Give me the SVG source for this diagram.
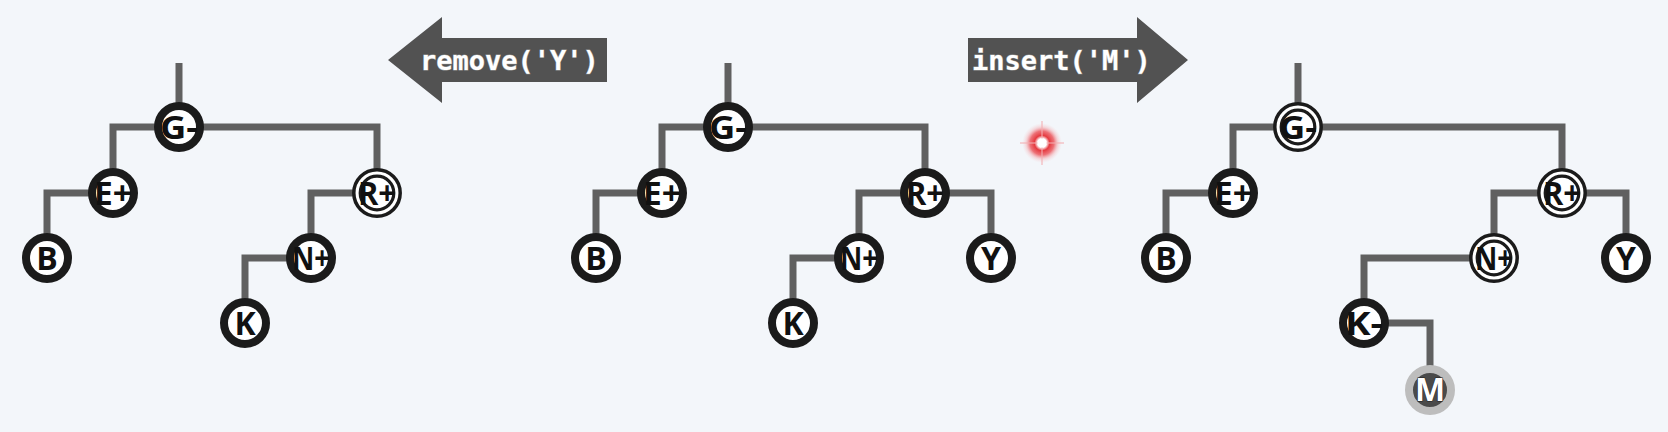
<svg xmlns="http://www.w3.org/2000/svg" width="1668" height="432" viewBox="0 0 1668 432">
<defs>
<radialGradient id="glow" cx="0.5" cy="0.5" r="0.5">
<stop offset="0" stop-color="#ffffff"/>
<stop offset="0.22" stop-color="#ffffff"/>
<stop offset="0.38" stop-color="#e53a40"/>
<stop offset="0.6" stop-color="#ec5a60" stop-opacity="0.85"/>
<stop offset="0.8" stop-color="#f49a9e" stop-opacity="0.35"/>
<stop offset="1" stop-color="#f8c8ca" stop-opacity="0"/>
</radialGradient>
</defs>
<style>
.bg{fill:#f3f6fa}
.edge{fill:none;stroke:#606060;stroke-width:7;stroke-linejoin:miter;stroke-linecap:butt}
.ring{fill:#ffffff;stroke:#1b1b1b;stroke-width:8}
.dbl-o{fill:#ffffff;stroke:#1b1b1b;stroke-width:3.5}
.dbl-i{fill:none;stroke:#1b1b1b;stroke-width:3.2}
.lbl{font-family:"Open Sans","DejaVu Sans",sans-serif;font-weight:bold;font-size:32px;fill:#111;text-anchor:middle}
.arrow{fill:#525252}
.cmd{font-family:"DejaVu Sans Mono","Liberation Mono",monospace;font-weight:bold;font-size:27px;fill:#ffffff;stroke:#9a9a9a;stroke-width:1;paint-order:stroke}
.mring{fill:#4a4a4a;stroke:#bdbdbd;stroke-width:8}
.mlbl{font-family:"Open Sans","DejaVu Sans",sans-serif;font-weight:bold;font-size:32px;fill:#ffffff;stroke:#222;stroke-width:1;paint-order:stroke;text-anchor:middle}
.spark{stroke:#f3b0b3;stroke-width:1.5;opacity:0.7}
</style>
<rect class="bg" x="0" y="0" width="1668" height="432"/>

<g id="arrow-remove">
<polygon class="arrow" points="388,60 442,17 442,38 607,38 607,82 442,82 442,103"/>
<text class="cmd" x="420" y="70">remove('Y')</text>
</g>
<g id="arrow-insert">
<polygon class="arrow" points="968,38 1137,38 1137,17 1188,60 1137,103 1137,82 968,82"/>
<text class="cmd" x="972" y="70">insert('M')</text>
</g>

<g id="cursor-highlight">
<circle cx="1042" cy="143" r="20" fill="url(#glow)"/>
<path class="spark" d="M1020,143 H1064 M1042,121 V165"/>
<circle cx="1042" cy="143" r="4.5" fill="#ffffff"/>
</g>

<g id="connectors">
<!-- left tree -->
<path class="edge" d="M179,63 V127"/>
<path class="edge" d="M179,127 H113 V193"/>
<path class="edge" d="M179,127 H377 V193"/>
<path class="edge" d="M113,193 H47 V258"/>
<path class="edge" d="M377,193 H311 V258"/>
<path class="edge" d="M311,258 H245 V323"/>
<!-- middle tree -->
<path class="edge" d="M728,63 V127"/>
<path class="edge" d="M728,127 H662 V193"/>
<path class="edge" d="M728,127 H925 V193"/>
<path class="edge" d="M662,193 H596 V258"/>
<path class="edge" d="M925,193 H859 V258"/>
<path class="edge" d="M925,193 H991 V258"/>
<path class="edge" d="M859,258 H793 V323"/>
<!-- right tree -->
<path class="edge" d="M1298,63 V127"/>
<path class="edge" d="M1298,127 H1233 V193"/>
<path class="edge" d="M1298,127 H1562 V193"/>
<path class="edge" d="M1233,193 H1166 V258"/>
<path class="edge" d="M1562,193 H1494 V258"/>
<path class="edge" d="M1562,193 H1626 V258"/>
<path class="edge" d="M1494,258 H1364 V323"/>
<path class="edge" d="M1364,323 H1430 V390"/>
</g>

<!-- left tree nodes -->
<g id="L-G"><circle class="ring" cx="179" cy="127" r="21"/><text class="lbl" x="179" y="139" textLength="38" lengthAdjust="spacingAndGlyphs">G-</text></g>
<g id="L-E"><circle class="ring" cx="113" cy="193" r="21"/><text class="lbl" x="113" y="205" textLength="38" lengthAdjust="spacingAndGlyphs">E+</text></g>
<g id="L-B"><circle class="ring" cx="47" cy="258" r="21"/><text class="lbl" x="47" y="270">B</text></g>
<g id="L-R"><circle class="dbl-o" cx="377" cy="193" r="23.2"/><circle class="dbl-i" cx="377" cy="193" r="16.8"/><text class="lbl" x="377" y="205" textLength="38" lengthAdjust="spacingAndGlyphs">R+</text></g>
<g id="L-N"><circle class="ring" cx="311" cy="258" r="21"/><text class="lbl" x="311" y="270" textLength="38" lengthAdjust="spacingAndGlyphs">N+</text></g>
<g id="L-K"><circle class="ring" cx="245" cy="323" r="21"/><text class="lbl" x="245" y="335">K</text></g>

<!-- middle tree nodes -->
<g id="M-G"><circle class="ring" cx="728" cy="127" r="21"/><text class="lbl" x="728" y="139" textLength="38" lengthAdjust="spacingAndGlyphs">G-</text></g>
<g id="M-E"><circle class="ring" cx="662" cy="193" r="21"/><text class="lbl" x="662" y="205" textLength="38" lengthAdjust="spacingAndGlyphs">E+</text></g>
<g id="M-B"><circle class="ring" cx="596" cy="258" r="21"/><text class="lbl" x="596" y="270">B</text></g>
<g id="M-R"><circle class="ring" cx="925" cy="193" r="21"/><text class="lbl" x="925" y="205" textLength="38" lengthAdjust="spacingAndGlyphs">R+</text></g>
<g id="M-N"><circle class="ring" cx="859" cy="258" r="21"/><text class="lbl" x="859" y="270" textLength="38" lengthAdjust="spacingAndGlyphs">N+</text></g>
<g id="M-Y"><circle class="ring" cx="991" cy="258" r="21"/><text class="lbl" x="991" y="270">Y</text></g>
<g id="M-K"><circle class="ring" cx="793" cy="323" r="21"/><text class="lbl" x="793" y="335">K</text></g>

<!-- right tree nodes -->
<g id="R-G"><circle class="dbl-o" cx="1298" cy="127" r="23.2"/><circle class="dbl-i" cx="1298" cy="127" r="16.8"/><text class="lbl" x="1298" y="139" textLength="38" lengthAdjust="spacingAndGlyphs">G-</text></g>
<g id="R-E"><circle class="ring" cx="1233" cy="193" r="21"/><text class="lbl" x="1233" y="205" textLength="38" lengthAdjust="spacingAndGlyphs">E+</text></g>
<g id="R-B"><circle class="ring" cx="1166" cy="258" r="21"/><text class="lbl" x="1166" y="270">B</text></g>
<g id="R-R"><circle class="dbl-o" cx="1562" cy="193" r="23.2"/><circle class="dbl-i" cx="1562" cy="193" r="16.8"/><text class="lbl" x="1562" y="205" textLength="38" lengthAdjust="spacingAndGlyphs">R+</text></g>
<g id="R-N"><circle class="dbl-o" cx="1494" cy="258" r="23.2"/><circle class="dbl-i" cx="1494" cy="258" r="16.8"/><text class="lbl" x="1494" y="270" textLength="38" lengthAdjust="spacingAndGlyphs">N+</text></g>
<g id="R-Y"><circle class="ring" cx="1626" cy="258" r="21"/><text class="lbl" x="1626" y="270">Y</text></g>
<g id="R-K"><circle class="ring" cx="1364" cy="323" r="21"/><text class="lbl" x="1364" y="335" textLength="38" lengthAdjust="spacingAndGlyphs">K-</text></g>
<g id="R-M"><circle class="mring" cx="1430" cy="390" r="21"/><text class="mlbl" x="1430" y="401">M</text></g>
</svg>
